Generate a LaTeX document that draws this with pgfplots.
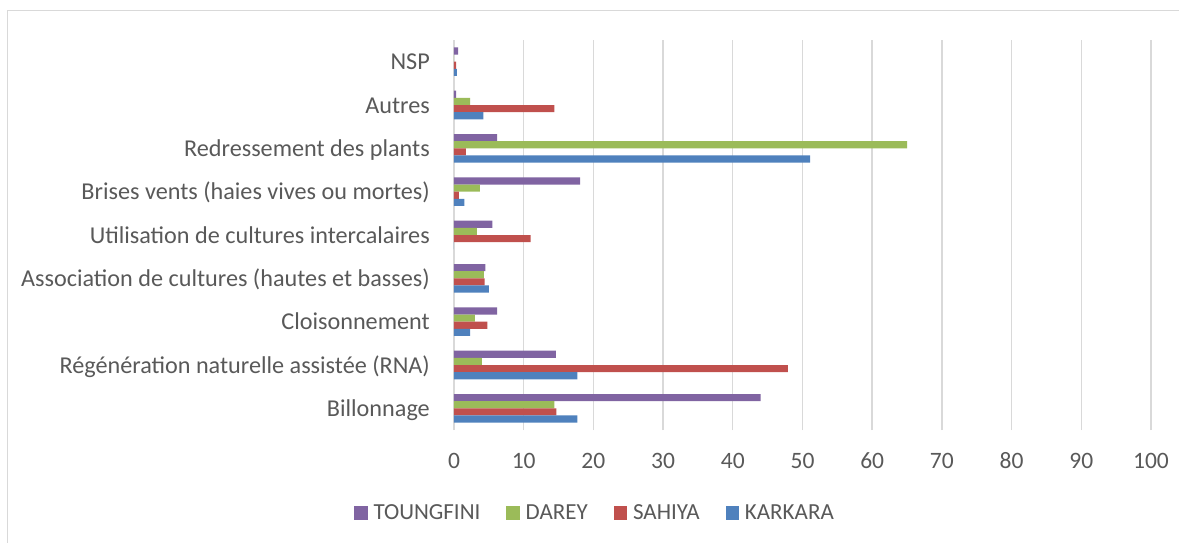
\documentclass[border=0pt]{standalone}
\usepackage{fontspec}
\setmainfont{Carlito}
\usepackage{pgfplots}
\pgfplotsset{compat=1.18}
\definecolor{cPur}{HTML}{8064A2}
\definecolor{cGrn}{HTML}{9BBB59}
\definecolor{cRed}{HTML}{C0504D}
\definecolor{cBlu}{HTML}{4F81BD}
\definecolor{cTxt}{HTML}{595959}
\definecolor{cGrid}{HTML}{D9D9D9}
\begin{document}
\begin{tikzpicture}
\useasboundingbox (-454bp,-113bp) rectangle (725bp,430bp);
\draw[cGrid, line width=1.4bp] (-446.7bp,-130bp) -- (-446.7bp,419.3bp) -- (740bp,419.3bp);
\begin{axis}[
  at={(0,0)}, anchor=south west,
  scale only axis, width=697bp, height=390bp,
  xbar, bar width=0.165,
  xmin=0, xmax=100, ymin=-0.5, ymax=8.5,
  axis line style={draw=none},
  xtick={0,10,...,100},
  ytick={0,...,8},
  yticklabels={Billonnage, Régénération naturelle assistée (RNA), Cloisonnement\hspace{4bp}, Association de cultures (hautes et basses), Utilisation de cultures intercalaires\hspace{4bp}, Brises vents (haies vives ou mortes), Redressement des plants\hspace{4bp}, Autres\hspace{3bp}, NSP\hspace{3bp}},
  xmajorgrids, major grid style={cGrid, line width=1.4bp},
  major tick length=0pt,
  tick label style={font=\fontsize{23.5bp}{28bp}\selectfont, text=cTxt, inner sep=0pt},
  xticklabel style={anchor=base, yshift=-38bp},
  yticklabel style={font=\fontsize{24.2bp}{29bp}\selectfont, anchor=base east, yshift=-8bp, xshift=-24bp},
  xticklabels={0,10,20,30,40,50,60,70,80,90,100},
  legend columns=4,
  legend style={draw=none, at={(axis description cs:0.2023,-0.2128)}, anchor=center,
    font=\fontsize{23bp}{27bp}\selectfont, text=cTxt,
    /tikz/every odd column/.append style={column sep=4bp},
    /tikz/every even column/.append style={column sep=24bp}},
  legend image code/.code={\fill[#1] (0bp,-6.65bp) rectangle (13.3bp,6.65bp);},
  clip=false,
]
\addplot[fill=cPur, draw=none, bar shift=0.2475] coordinates {(44.0,0) (14.6,1) (6.2,2) (4.5,3) (5.5,4) (18.1,5) (6.2,6) (0.3,7) (0.6,8)};
\addlegendentry{TOUNGFINI}
\addplot[fill=cGrn, draw=none, bar shift=0.0825] coordinates {(14.4,0) (4.0,1) (3.0,2) (4.3,3) (3.3,4) (3.7,5) (65.0,6) (2.3,7) (0,8)};
\addlegendentry{DAREY}
\addplot[fill=cRed, draw=none, bar shift=-0.0825] coordinates {(14.7,0) (47.9,1) (4.8,2) (4.4,3) (11.0,4) (0.7,5) (1.7,6) (14.4,7) (0.3,8)};
\addlegendentry{SAHIYA}
\addplot[fill=cBlu, draw=none, bar shift=-0.2475] coordinates {(17.7,0) (17.7,1) (2.3,2) (5.0,3) (0,4) (1.5,5) (51.1,6) (4.2,7) (0.4,8)};
\addlegendentry{KARKARA}
\end{axis}
\end{tikzpicture}
\end{document}
